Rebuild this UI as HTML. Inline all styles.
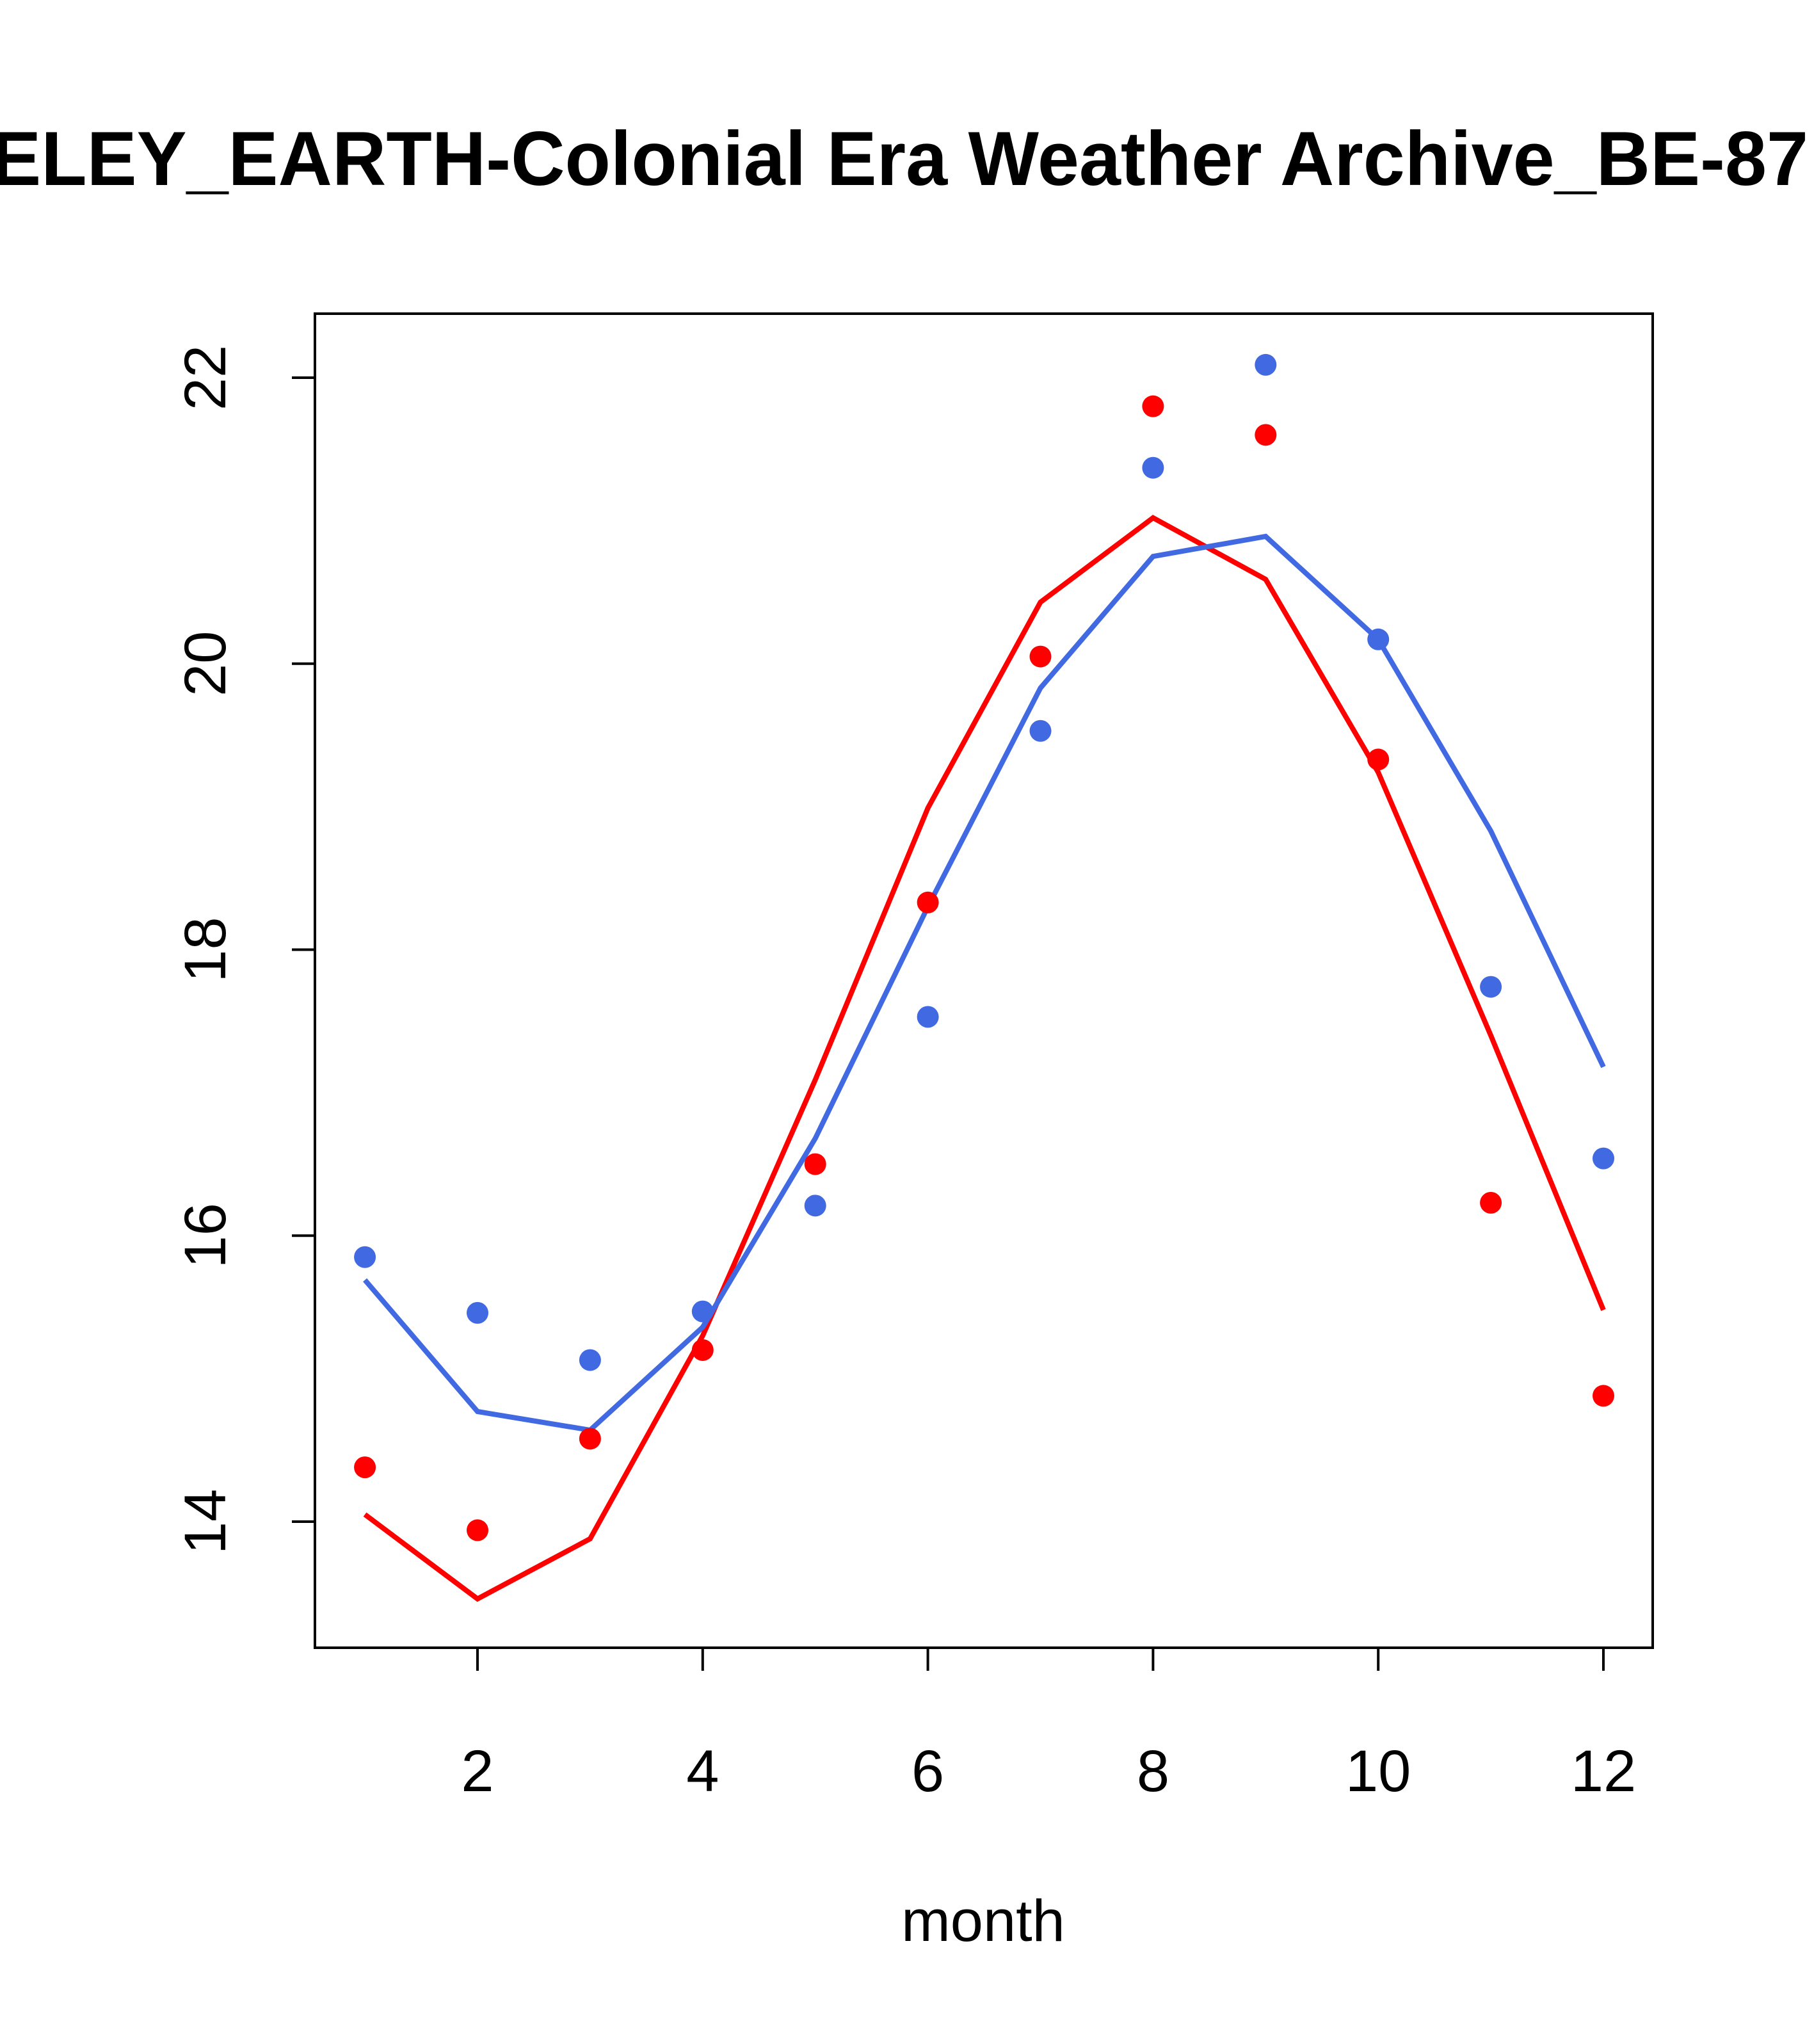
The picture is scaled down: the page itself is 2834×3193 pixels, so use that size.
<!DOCTYPE html>
<html><head><meta charset="utf-8"><style>
html,body{margin:0;padding:0;background:#fff;overflow:hidden;}
svg text{font-family:"Liberation Sans",Arial,sans-serif;}
</style></head><body>
<svg id="chart" width="2834" height="3188" viewBox="0 0 2834 3188" xmlns="http://www.w3.org/2000/svg">
<rect width="2834" height="3188" fill="#fff"/>
<text x="-345" y="289" text-anchor="start" font-size="120" font-weight="bold" textLength="3170" lengthAdjust="spacingAndGlyphs">BERKELEY_EARTH-Colonial Era Weather Archive_BE-87</text>
<rect x="492" y="490" width="2090" height="2084" fill="none" stroke="#000" stroke-width="4"/>
<text x="1536" y="3032" text-anchor="middle" font-size="92">month</text>
<g id="axes"></g>
<g id="marks"></g>
</svg>
<script>
const months = [1,2,3,4,5,6,7,8,9,10,11,12];
const redPoints = [14.38,13.94,14.58,15.20,16.50,18.33,20.05,21.80,21.60,19.33,16.23,14.88];
const redLine = [14.05,13.46,13.88,15.30,17.09,18.99,20.43,21.02,20.59,19.24,17.40,15.48];
const bluePoints = [15.85,15.46,15.13,15.47,16.21,17.53,19.53,21.37,22.09,20.17,17.74,16.54];
const blueLine = [15.69,14.77,14.64,15.36,16.68,18.30,19.83,20.75,20.89,20.17,18.83,17.18];
const xTicks = [2,4,6,8,10,12];
const yTicks = [14,16,18,20,22];

const NS="http://www.w3.org/2000/svg";
function xs(v){return 746+(v-2)*175.9;}
function ys(v){return 2377-(v-14)*(2377-590)/8;}
const axes=document.getElementById('axes'), marks=document.getElementById('marks');
function mk(tag,attrs,parent){const e=document.createElementNS(NS,tag);for(const k in attrs)e.setAttribute(k,attrs[k]);parent.appendChild(e);return e;}

xTicks.forEach(t=>{
  const l=mk('line',{x1:xs(t),x2:xs(t),y1:2574,y2:2610,stroke:'#000','stroke-width':4},axes);
  
  
  const tx=mk('text',{x:xs(t),y:2798,'text-anchor':'middle','font-size':92},axes);
  tx.textContent=t;
  
  
});
yTicks.forEach(t=>{
  const l=mk('line',{x1:456,x2:492,y1:ys(t),y2:ys(t),stroke:'#000','stroke-width':4},axes);
  
  
  const tx=mk('text',{x:0,y:0,'text-anchor':'middle','font-size':92,transform:`translate(352,${ys(t)}) rotate(-90)`},axes);
  tx.textContent=t;
  
  
});
function line(vals,color,name){
  const p=mk('polyline',{points:vals.map((v,i)=>xs(months[i])+','+ys(v)).join(' '),fill:'none',stroke:color,'stroke-width':8},marks);
  
  
}
function pts(vals,color,name){
  vals.forEach((v,i)=>{
    const c=mk('circle',{cx:xs(months[i]),cy:ys(v),r:17,fill:color},marks);
    
    
  });
}
line(redLine,'#ff0000','red-trend-line');
line(blueLine,'#4169e1','blue-trend-line');
pts(redPoints,'#ff0000','red-point');
pts(bluePoints,'#4169e1','blue-point');
</script>
</body></html>
